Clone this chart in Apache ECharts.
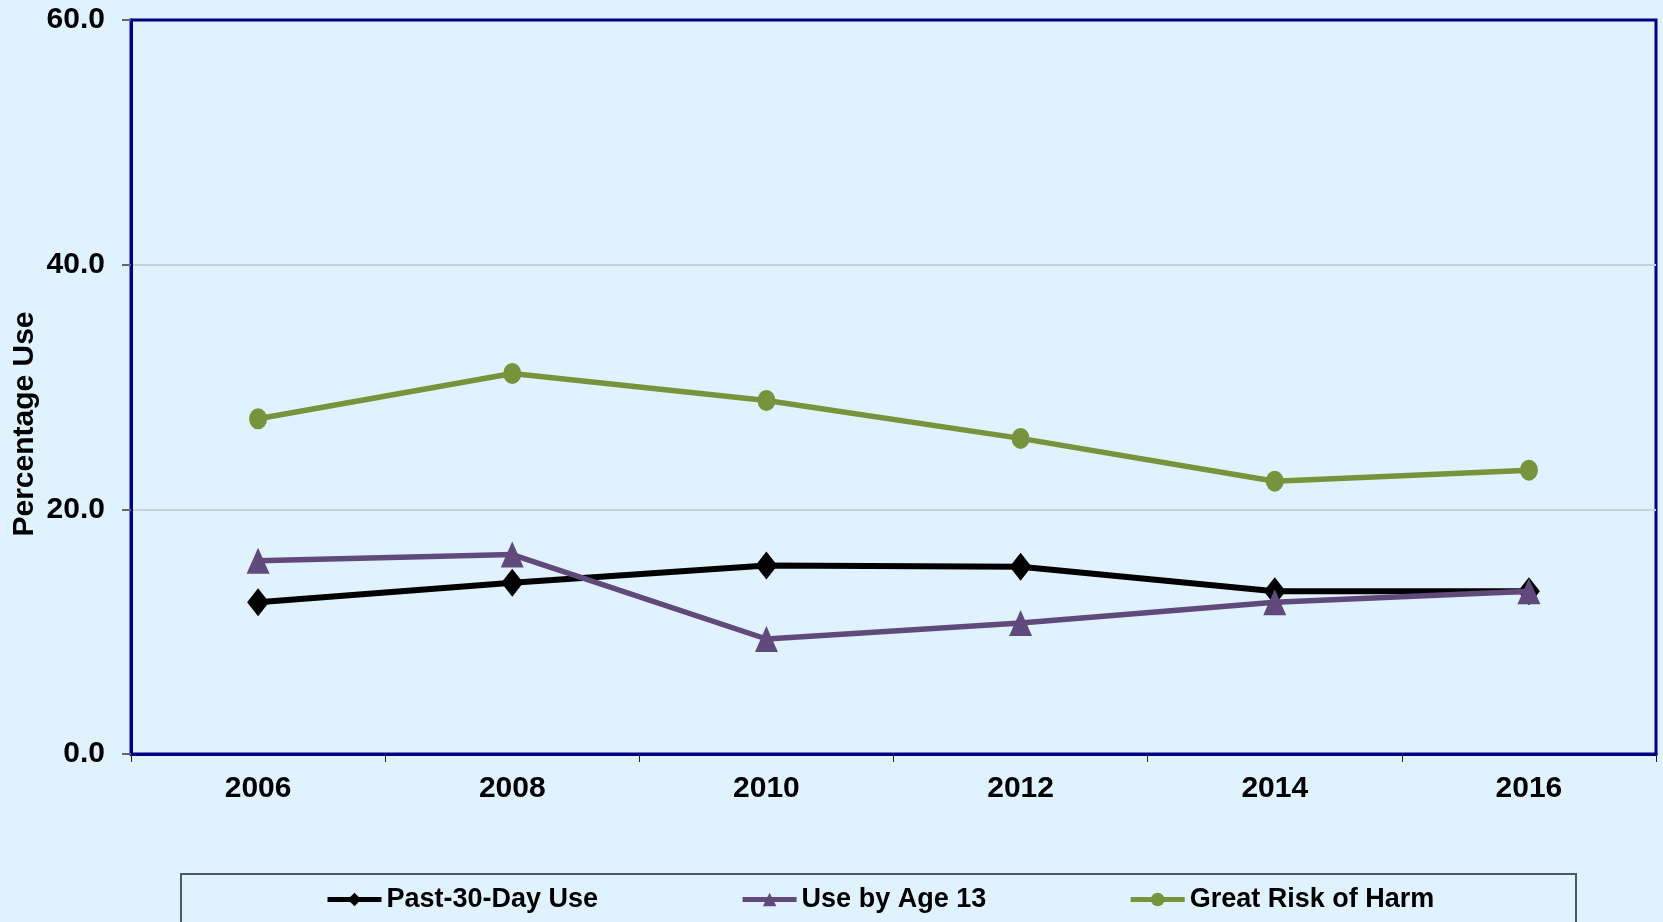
<!DOCTYPE html>
<html>
<head>
<meta charset="utf-8">
<script src="https://cdn.jsdelivr.net/npm/echarts@6/dist/echarts.min.js"></script>
<style>
html,body{margin:0;padding:0;background:#e0f2fe;}
#chart{width:1663px;height:922px;}
</style>
</head>
<body>
<div id="chart"></div>
<script>
const years = ['2006', '2008', '2010', '2012', '2014', '2016'];
const past30DayUse = [12.4, 14.0, 15.4, 15.3, 13.3, 13.3];
const useByAge13 = [15.8, 16.3, 9.4, 10.7, 12.4, 13.3];
const greatRiskOfHarm = [27.4, 31.1, 28.9, 25.8, 22.3, 23.2];
const yTicks = [0, 20, 40, 60];
const seriesNames = ['Past-30-Day Use', 'Use by Age 13', 'Great Risk of Harm'];

const FONT = '"Liberation Sans", Arial, sans-serif';
const chart = echarts.init(document.getElementById('chart'), null, {renderer: 'canvas'});

chart.setOption({
  backgroundColor: '#e0f2fe',
  animation: false,
  grid: {
    left: 131, top: 20, right: 7, bottom: 168,
    show: true, borderColor: '#000080', borderWidth: 3, backgroundColor: 'transparent'
  },
  xAxis: {
    type: 'category',
    data: years,
    boundaryGap: true,
    axisLine: {lineStyle: {color: '#000080', width: 3}},
    axisTick: {show: true, length: 8, lineStyle: {color: '#222', width: 1}},
    axisLabel: {fontSize: 30, fontWeight: 'bold', color: '#000', fontFamily: FONT, margin: 20},
    splitLine: {show: false}
  },
  yAxis: {
    type: 'value',
    min: yTicks[0], max: yTicks[yTicks.length - 1], interval: 20,
    axisLine: {show: true, lineStyle: {color: '#000080', width: 3}},
    axisTick: {show: true, length: 9, lineStyle: {color: '#666', width: 2}},
    axisLabel: {fontSize: 30, fontWeight: 'bold', color: '#000', fontFamily: FONT, margin: 26,
      formatter: v => v.toFixed(1)},
    splitLine: {show: true, showMaxLine: false, showMinLine: false, lineStyle: {color: '#c8d2da', width: 2}}
  },
  legend: {
    left: 320, top: 881,
    itemGap: 142, itemWidth: 54, itemHeight: 17,
    lineStyle: {width: 5},
    textStyle: {fontSize: 27, fontWeight: 'bold', color: '#000', fontFamily: FONT},
    data: seriesNames
  },
  graphic: [
    {
      type: 'rect', z: -1, silent: true,
      shape: {x: 181, y: 874, width: 1395, height: 100},
      style: {fill: 'transparent', stroke: '#4f5a60', lineWidth: 2}
    },
    {
      type: 'text', silent: true,
      x: 25, y: 424, rotation: Math.PI / 2,
      style: {text: 'Percentage Use', fontSize: 30, fontWeight: 'bold', fontFamily: FONT,
        fill: '#000', align: 'center', verticalAlign: 'middle'}
    }
  ],
  series: [
    {
      name: seriesNames[0], type: 'line', data: past30DayUse,
      symbol: 'diamond', symbolSize: [22, 28],
      lineStyle: {color: '#000', width: 6},
      itemStyle: {color: '#000'}, z: 3
    },
    {
      name: seriesNames[1], type: 'line', data: useByAge13,
      symbol: 'triangle', symbolSize: [23, 26],
      lineStyle: {color: '#604a7b', width: 5.5},
      itemStyle: {color: '#604a7b'}, z: 4
    },
    {
      name: seriesNames[2], type: 'line', data: greatRiskOfHarm,
      symbol: 'circle', symbolSize: [18, 21],
      lineStyle: {color: '#77933c', width: 5.5},
      itemStyle: {color: '#77933c'}, z: 2
    }
  ]
});
</script>
</body>
</html>
